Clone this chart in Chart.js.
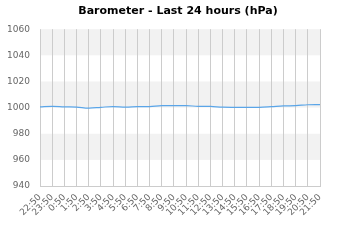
<!DOCTYPE html>
<html>
<head>
<meta charset="utf-8">
<script src="https://cdn.jsdelivr.net/npm/chart.js@4/dist/chart.umd.min.js"></script>
<style>
  html, body { margin: 0; padding: 0; background: #fff; }
  #wrap { width: 360px; height: 240px; }
</style>
</head>
<body>
<div id="wrap"><canvas id="baroChart"></canvas></div>
<script>
const horas = ['22:50', '23:50', '0:50', '1:50', '2:50', '3:50', '4:50', '5:50', '6:50', '7:50', '8:50', '9:50',
  '10:50', '11:50', '12:50', '13:50', '14:50', '15:50', '16:50', '17:50', '18:50', '19:50', '20:50', '21:50'];
const presion = [1000.6, 1001.0, 1000.6, 1000.4, 999.6, 1000.2, 1000.8, 1000.3, 1000.7, 1000.8, 1001.5, 1001.5,
  1001.5, 1001.0, 1000.9, 1000.3, 1000.2, 1000.2, 1000.2, 1000.7, 1001.3, 1001.5, 1002.2, 1002.3];
const yMin = 940;
const yMax = 1060;
const yPaso = 20;
const bandas = [[1040, 1060], [1000, 1020], [960, 980]];

// bandas grises alternas detras de la rejilla
const bandasPlugin = {
  id: 'bandas',
  beforeDraw(chart) {
    const { ctx, chartArea, scales } = chart;
    ctx.save();
    ctx.fillStyle = '#f2f2f2';
    bandas.forEach(b => {
      const yTop = scales.y.getPixelForValue(b[1]);
      const yBot = scales.y.getPixelForValue(b[0]);
      ctx.fillRect(chartArea.left, yTop, chartArea.right - chartArea.left, yBot - yTop);
    });
    ctx.restore();
  }
};

Chart.defaults.font.family = '"DejaVu Sans", Verdana, sans-serif';

new Chart(document.getElementById('baroChart'), {
  type: 'line',
  data: {
    labels: horas,
    datasets: [{
      label: 'Barometer',
      data: presion,
      borderColor: '#5aa5e8',
      borderWidth: 1.2,
      pointRadius: 0,
      tension: 0.35,
      fill: false
    }]
  },
  options: {
    responsive: true,
    maintainAspectRatio: false,
    animation: false,
    layout: { padding: { left: 0, right: 4, top: 0, bottom: 16 } },
    plugins: {
      legend: { display: false },
      tooltip: { enabled: false },
      title: {
        display: true,
        text: 'Barometer - Last 24 hours (hPa)',
        color: '#000',
        font: { size: 11, weight: 'bold' },
        padding: { top: 5, bottom: 11 }
      }
    },
    scales: {
      x: {
        offset: false,
        grid: { color: '#cccccc', drawTicks: false, offset: false },
        border: { color: '#cccccc' },
        ticks: {
          color: '#666',
          font: { size: 9 },
          minRotation: 45,
          maxRotation: 45,
          autoSkip: false,
          padding: 6
        }
      },
      y: {
        min: yMin,
        max: yMax,
        grid: { display: false, drawTicks: false },
        border: { display: false },
        afterFit: s => { s.width = 40; },
        ticks: {
          stepSize: yPaso,
          color: '#666',
          font: { size: 9 },
          padding: 10,
          callback: v => String(v)
        }
      },
      // eje vacio a la derecha para dejar el margen
      derecha: {
        position: 'right',
        grid: { display: false, drawTicks: false },
        border: { display: false },
        ticks: { display: false },
        afterFit: s => { s.width = 36; }
      }
    }
  },
  plugins: [bandasPlugin]
});
</script>
</body>
</html>
